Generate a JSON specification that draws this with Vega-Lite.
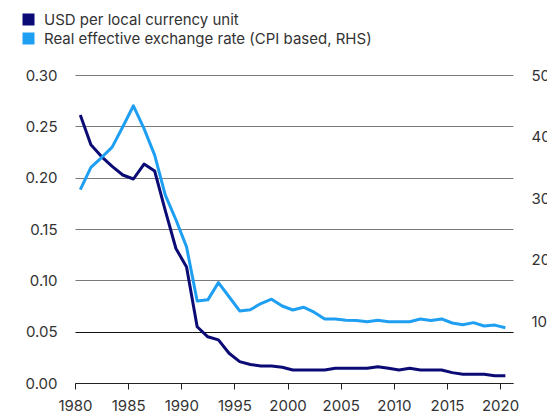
{
  "$schema": "https://vega.github.io/schema/vega-lite/v6.json",
  "autosize": "none",
  "width": 438,
  "height": 308,
  "padding": {"left": 75, "top": 75, "right": 34, "bottom": 33},
  "background": "white",
  "config": {
    "font": "Inter",
    "view": {"stroke": null},
    "axis": {"labelFont": "Inter", "labelFontSize": 15, "labelColor": "#333333", "titleFontSize": 0},
    "legend": {"labelFont": "Inter", "labelFontSize": 15, "labelColor": "#333333"}
  },
  "data": {
    "values": [
      {"date": "1980-07-01", "usd": 0.261, "reer": 31.4},
      {"date": "1981-07-01", "usd": 0.232, "reer": 35.0},
      {"date": "1982-07-01", "usd": 0.2205, "reer": 36.6},
      {"date": "1983-07-01", "usd": 0.211, "reer": 38.3},
      {"date": "1984-07-01", "usd": 0.2026, "reer": 41.6},
      {"date": "1985-07-01", "usd": 0.1987, "reer": 45.0},
      {"date": "1986-07-01", "usd": 0.2133, "reer": 41.3},
      {"date": "1987-07-01", "usd": 0.2065, "reer": 37.0},
      {"date": "1988-07-01", "usd": 0.168, "reer": 30.5},
      {"date": "1989-07-01", "usd": 0.131, "reer": 26.5},
      {"date": "1990-07-01", "usd": 0.113, "reer": 22.1},
      {"date": "1991-07-01", "usd": 0.0548, "reer": 13.3},
      {"date": "1992-07-01", "usd": 0.045, "reer": 13.5},
      {"date": "1993-07-01", "usd": 0.042, "reer": 16.3},
      {"date": "1994-07-01", "usd": 0.029, "reer": 14.0},
      {"date": "1995-07-01", "usd": 0.0208, "reer": 11.7},
      {"date": "1996-07-01", "usd": 0.018, "reer": 11.9},
      {"date": "1997-07-01", "usd": 0.0166, "reer": 12.9},
      {"date": "1998-07-01", "usd": 0.0166, "reer": 13.6},
      {"date": "1999-07-01", "usd": 0.0153, "reer": 12.5},
      {"date": "2000-07-01", "usd": 0.0127, "reer": 11.85},
      {"date": "2001-07-01", "usd": 0.0127, "reer": 12.3},
      {"date": "2002-07-01", "usd": 0.0127, "reer": 11.5},
      {"date": "2003-07-01", "usd": 0.0127, "reer": 10.4},
      {"date": "2004-07-01", "usd": 0.0143, "reer": 10.4},
      {"date": "2005-07-01", "usd": 0.0143, "reer": 10.2},
      {"date": "2006-07-01", "usd": 0.0143, "reer": 10.15},
      {"date": "2007-07-01", "usd": 0.0143, "reer": 9.95},
      {"date": "2008-07-01", "usd": 0.0159, "reer": 10.2},
      {"date": "2009-07-01", "usd": 0.0143, "reer": 9.95},
      {"date": "2010-07-01", "usd": 0.0127, "reer": 9.95},
      {"date": "2011-07-01", "usd": 0.0143, "reer": 9.95},
      {"date": "2012-07-01", "usd": 0.0127, "reer": 10.4},
      {"date": "2013-07-01", "usd": 0.0127, "reer": 10.15},
      {"date": "2014-07-01", "usd": 0.0127, "reer": 10.4},
      {"date": "2015-07-01", "usd": 0.0101, "reer": 9.74},
      {"date": "2016-07-01", "usd": 0.0085, "reer": 9.47},
      {"date": "2017-07-01", "usd": 0.0085, "reer": 9.8},
      {"date": "2018-07-01", "usd": 0.0085, "reer": 9.25},
      {"date": "2019-07-01", "usd": 0.0071, "reer": 9.4},
      {"date": "2020-07-01", "usd": 0.0071, "reer": 8.98}
    ]
  },
  "encoding": {
    "x": {
      "field": "date",
      "type": "temporal",
      "scale": {"domain": ["1980-01-01", "2021-03-20"]},
      "axis": {
        "title": null,
        "format": "%Y",
        "values": [
          {"year": 1980}, {"year": 1985}, {"year": 1990}, {"year": 1995}, {"year": 2000},
          {"year": 2005}, {"year": 2010}, {"year": 2015}, {"year": 2020}
        ],
        "grid": false,
        "domainColor": "#222222",
        "tickColor": "#222222",
        "tickSize": 6,
        "labelPadding": 9,
        "labelFlush": false,
        "labelOverlap": false,
        "zindex": 1
      }
    },
    "color": {
      "datum": "USD per local currency unit",
      "type": "nominal",
      "scale": {
        "domain": ["USD per local currency unit", "Real effective exchange rate (CPI based, RHS)"],
        "range": ["#0b0b76", "#1e9ff2"]
      },
      "legend": {
        "title": null,
        "orient": "none",
        "legendX": -54,
        "legendY": -63,
        "symbolType": "square",
        "symbolSize": 144,
        "symbolStrokeWidth": 0,
        "labelOffset": 8,
        "labelLimit": 500,
        "rowPadding": 3,
        "padding": 0,
        "encode": {
          "symbols": {"update": {"fill": {"field": "value", "scale": "color"}, "fillOpacity": {"value": 1}}}
        }
      }
    }
  },
  "layer": [
    {
      "mark": {"type": "line", "strokeWidth": 3, "strokeJoin": "round"},
      "encoding": {
        "y": {
          "field": "usd",
          "type": "quantitative",
          "scale": {"domain": [0, 0.3]},
          "axis": {
            "title": null,
            "orient": "left",
            "values": [0, 0.05, 0.1, 0.15, 0.2, 0.25, 0.3],
            "format": ".2f",
            "domain": false,
            "ticks": false,
            "labelPadding": 18,
            "grid": true,
            "gridColor": {"condition": {"test": "datum.value == 0.05", "value": "#111111"}, "value": "#7a7a7a"},
            "gridWidth": 1
          }
        },
        "color": {"datum": "USD per local currency unit", "type": "nominal"}
      }
    },
    {
      "mark": {"type": "line", "strokeWidth": 3, "strokeJoin": "round"},
      "encoding": {
        "y": {
          "field": "reer",
          "type": "quantitative",
          "scale": {"domain": [0, 50]},
          "axis": {
            "title": null,
            "orient": "right",
            "values": [10, 20, 30, 40, 50],
            "domain": false,
            "ticks": false,
            "grid": false,
            "labelPadding": 18
          }
        },
        "color": {"datum": "Real effective exchange rate (CPI based, RHS)", "type": "nominal"}
      }
    }
  ],
  "resolve": {"scale": {"y": "independent"}}
}
